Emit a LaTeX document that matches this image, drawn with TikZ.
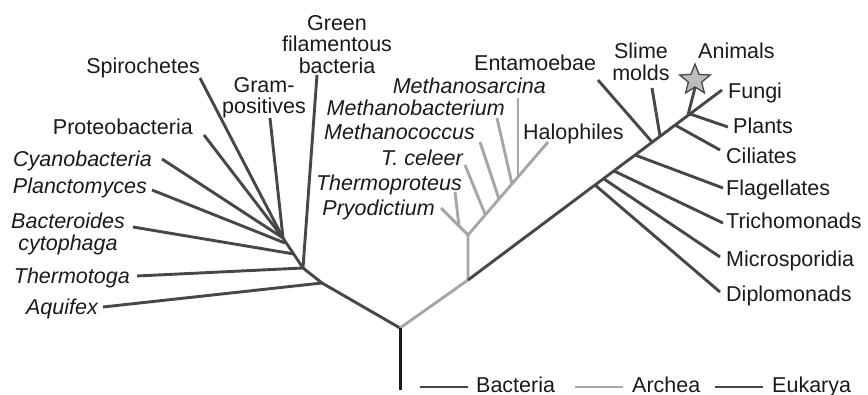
\documentclass[tikz,border=0pt]{standalone}
\usepackage{fontspec}
\setmainfont{Liberation Sans}
\usetikzlibrary{shapes.geometric}
\definecolor{dk}{HTML}{474747}
\definecolor{ar}{HTML}{A6A6A6}
\definecolor{rootc}{HTML}{1A1A1A}
\definecolor{txt}{HTML}{1A1A1A}
\definecolor{starfill}{HTML}{BDBDBD}
\begin{document}
\begin{tikzpicture}[x=1pt,y=-1pt,
  font=\fontsize{21.5}{21.5}\selectfont,
  lbl/.style={inner sep=0pt, text=txt},
  L/.style={lbl, anchor=base east},
  R/.style={lbl, anchor=base west},
  it/.style={font=\fontsize{21.5}{21.5}\selectfont\itshape},
  mline/.style={lbl, align=center, anchor=north},
  bline/.style={draw=dk, line width=2.9pt},
  aline/.style={draw=ar, line width=2.9pt},
  eline/.style={draw=dk, line width=2.9pt},
  rline/.style={draw=rootc, line width=3pt}
]
\useasboundingbox (0,0) rectangle (868,395);

% ---------- junction coordinates ----------
\coordinate (root0) at (400,390);
\coordinate (root) at (400,328);
\coordinate (b1) at (322,283);
\coordinate (b2) at (303,268);
\coordinate (b3) at (294,254);
\coordinate (b4) at (285,243);
\coordinate (b5) at (283,238);
\coordinate (ae) at (468,280);
\coordinate (a1) at (468,235);
\coordinate (a0) at (459,226);
\coordinate (a2) at (485,214);
\coordinate (a3) at (499,199);
\coordinate (a4) at (512,184);
\coordinate (a5) at (518,176);
\coordinate (e1) at (595,185);
\coordinate (e2) at (604,179);
\coordinate (e3) at (614,171);
\coordinate (e4) at (635,155);
\coordinate (e5) at (652,142);
\coordinate (e6) at (660,136);
\coordinate (e7) at (675,125);
\coordinate (e8) at (688,115);
\coordinate (e9) at (690,114);

% ---------- labels: Bacteria ----------
\node[L] (spiro) at (200,74) {Spirochetes};
\node[mline] (gram) at (264,77) {Gram-\\positives};
\node[mline] (green) at (337,15) {Green\\filamentous\\bacteria};
\node[L] (proteo) at (193,135) {Proteobacteria};
\node[L,it] (cyano) at (152,167) {Cyanobacteria};
\node[L,it] (planc) at (147,194) {Planctomyces};
\node[mline,it] (bacter) at (68,213) {Bacteroides\\cytophaga};
\node[L,it] (thermo) at (130,284) {Thermotoga};
\node[L,it] (aquif) at (98,315) {Aquifex};

% ---------- labels: Archaea ----------
\node[L,it] (msarc) at (546,94) {Methanosarcina};
\node[L,it] (mbact) at (505,116) {Methanobacterium};
\node[L,it] (mcocc) at (475,140) {Methanococcus};
\node[L,it] (tcel) at (463,166) {T. celeer};
\node[L,it] (tprot) at (462,191) {Thermoproteus};
\node[L,it] (pryo) at (435,216) {Pryodictium};
\node[R] (halo) at (523,140) {Halophiles};

% ---------- labels: Eukarya ----------
\node[R] (entam) at (474,71) {Entamoebae};
\node[mline] (slime) at (641,43) {Slime\\molds};
\node[R] (anim) at (698,59) {Animals};
\node[R] (fungi) at (728,99) {Fungi};
\node[R] (plants) at (733,134) {Plants};
\node[R] (cili) at (726,164) {Ciliates};
\node[R] (flag) at (726,196) {Flagellates};
\node[R] (trich) at (726,229) {Trichomonads};
\node[R] (micro) at (726,267) {Microsporidia};
\node[R] (diplo) at (726,302) {Diplomonads};

% ---------- free ends of the branches ----------
\coordinate (spiroE) at (200,78);
\coordinate (gramE) at (270,118);
\coordinate (greenE) at (317,75);
\coordinate (proteoE) at (204,135);
\coordinate (cyanoE) at (162,159);
\coordinate (plancE) at (152,190);
\coordinate (bacterE) at (133,227);
\coordinate (thermoE) at (137,276);
\coordinate (aquifE) at (103,307);
\coordinate (msarcE) at (518,98);
\coordinate (mbactE) at (497,118);
\coordinate (mcoccE) at (480,142);
\coordinate (tcelE) at (465,165);
\coordinate (tprotE) at (455,192);
\coordinate (pryoE) at (441,208);
\coordinate (haloE) at (548,142);
\coordinate (entamE) at (598,80);
\coordinate (slimeE) at (652,88);
\coordinate (fungiE) at (722,90);
\coordinate (plantsE) at (728,127);
\coordinate (ciliE) at (720,150);
\coordinate (flagE) at (723,188);
\coordinate (trichE) at (723,223);
\coordinate (microE) at (720,257);
\coordinate (diploE) at (720,292);

% ---------- Bacteria branches ----------
\draw[bline, line join=round] (root) -- (b1) -- (b2) -- (b5);
\draw[bline] (aquifE) -- (b1);
\draw[bline] (thermoE) -- (b2);
\draw[bline] (greenE) -- (b2);
\draw[bline] (bacterE) -- (b3);
\draw[bline] (plancE) -- (b4);
\draw[bline] (cyanoE) -- (b5);
\draw[bline] (proteoE) -- (b5);
\draw[bline] (spiroE) -- (b5);
\draw[bline] (gramE) -- (b5);

% ---------- Archaea branches ----------
\draw[aline, line join=round] (root) -- (ae) -- (a1) -- (haloE);
\draw[aline] (pryoE) -- (a1);
\draw[aline] (tprotE) -- (a0);
\draw[aline] (tcelE) -- (a2);
\draw[aline] (mcoccE) -- (a3);
\draw[aline] (mbactE) -- (a4);
\draw[aline] (msarcE) -- (a5);

% ---------- Eukarya branches ----------
\draw[eline] (ae) -- (fungiE);
\draw[eline] (diploE) -- (e1);
\draw[eline] (microE) -- (e2);
\draw[eline] (trichE) -- (e3);
\draw[eline] (flagE) -- (e4);
\draw[eline] (entamE) -- (e5);
\draw[eline] (slimeE) -- (e6);
\draw[eline] (ciliE) -- (e7);
\draw[eline] (plantsE) -- (e9);
\node[star, star points=5, star point ratio=2.3, minimum size=32pt, inner sep=0pt,
      draw=dk, line width=1.3pt, fill=starfill] (star) at (695,80) {};
\draw[eline] (e8) -- (star.south);

% ---------- root ----------
\draw[rline] (root0) -- (root);

% ---------- legend ----------
\coordinate (lb1) at (420,387); \coordinate (lb2) at (468,387);
\coordinate (la1) at (575,387); \coordinate (la2) at (623,387);
\coordinate (le1) at (715,387); \coordinate (le2) at (763,387);
\draw[bline] (lb1) -- (lb2);
\node[R] (legb) at (476,392) {Bacteria};
\draw[aline] (la1) -- (la2);
\node[R] (lega) at (632,392) {Archea};
\draw[eline] (le1) -- (le2);
\node[R] (lege) at (772,392) {Eukarya};
\end{tikzpicture}
\end{document}
